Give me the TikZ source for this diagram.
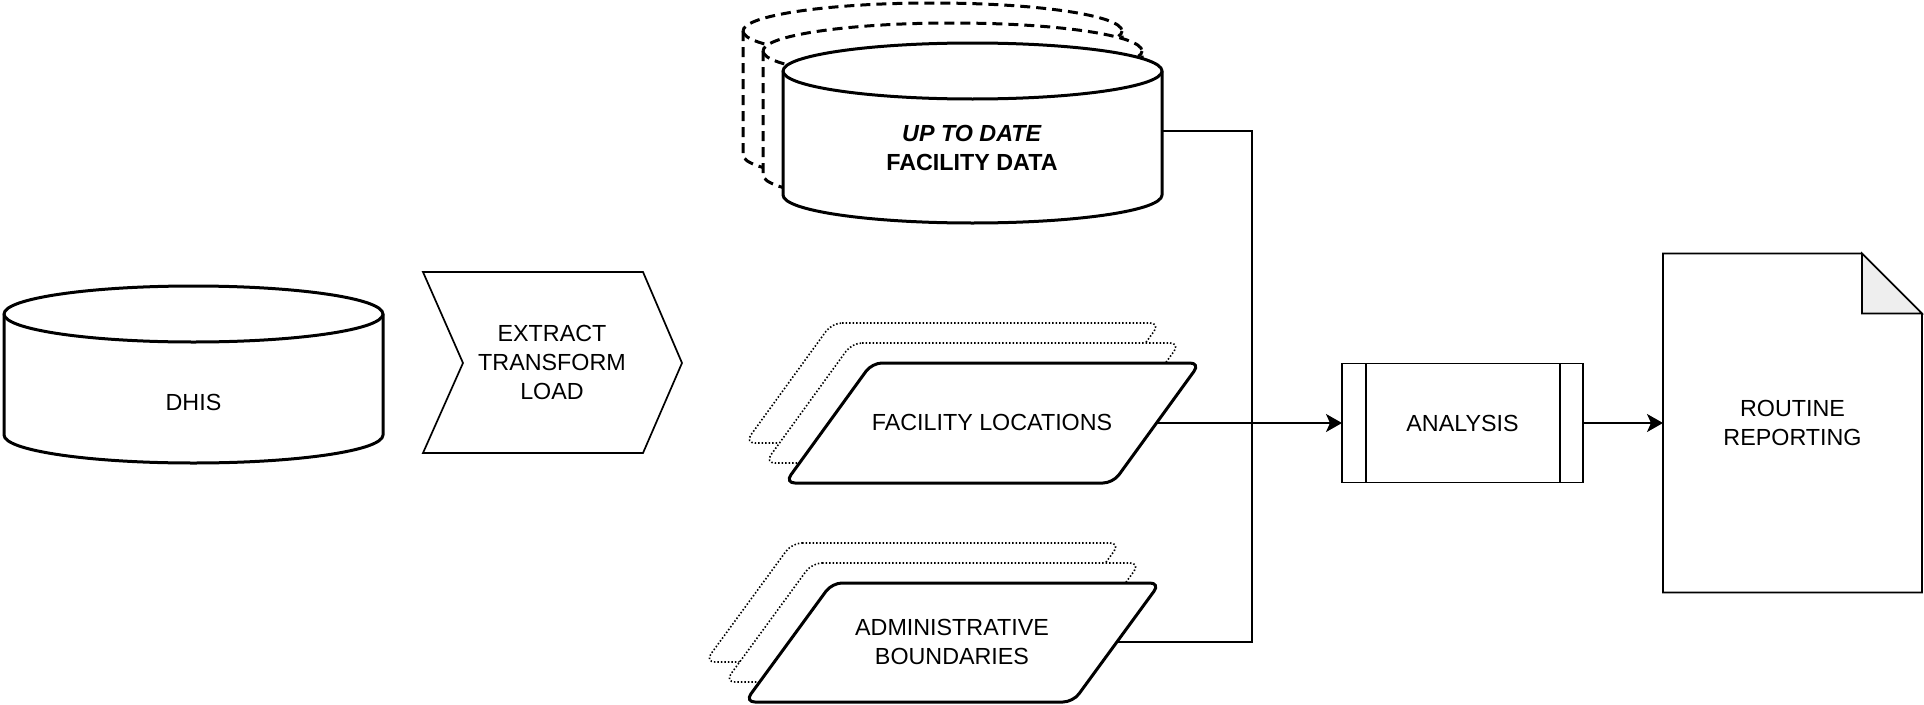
\documentclass[tikz,border=0pt]{standalone}
\usepackage{fontspec}
\setmainfont{Liberation Sans}
\usetikzlibrary{arrows.meta}
\definecolor{foldgray}{HTML}{EEEEEE}
\newcommand\mycyl[4]{%
  \draw[#4] (#1,#2) -- (#1,#3) arc[start angle=180,end angle=0,x radius=189.5,y radius=28]
     -- ++(0,{#2-#3}) arc[start angle=0,end angle=-180,x radius=189.5,y radius=28] -- cycle;
  \draw[#4] (#1,#2) arc[start angle=180,end angle=0,x radius=189.5,y radius=28];
}
\begin{document}
\begin{tikzpicture}[x=1pt,y=-1pt,
  lnthin/.style={line width=1.7pt},
  lnthick/.style={line width=3pt, line join=round, fill=white},
  dashedcyl/.style={line width=3pt, dash pattern=on 10pt off 6pt, fill=white},
  dottedpar/.style={line width=1.6pt, dash pattern=on 1.5pt off 2pt, fill=white, rounded corners=10pt},
  frontpar/.style={line width=3pt, fill=white, rounded corners=10pt},
  lbl/.style={font=\fontsize{23.3}{29}\selectfont, align=center, inner sep=0pt},
  conn/.style={line width=1.7pt},
  arr/.style={conn, -{Stealth[length=16pt,width=18pt,inset=4pt]}},
]
\useasboundingbox (0,0) rectangle (1924,704);

% DHIS cylinder
\mycyl{4}{314}{435}{lnthick}
\node[lbl] (dhis) at (193.5,402) {DHIS};

% ETL chevron
\draw[lnthin] (423,272) -- (643,272) -- (682,363) -- (643,453) -- (423,453) -- (463,363) -- cycle;
\node[lbl] (etl) at (552,362) {EXTRACT\\TRANSFORM\\LOAD};

% Facility data cylinders
\mycyl{743}{31}{155}{dashedcyl}
\mycyl{763}{51}{175}{dashedcyl}
\mycyl{783}{71}{195}{lnthick}
\node[lbl] (fd) at (972,148) {\textbf{\textit{UP TO DATE}}\\\textbf{FACILITY DATA}};

% Facility locations
\draw[dottedpar] (832,323) -- (1160,323) -- (1073,443) -- (745,443) -- cycle;
\draw[dottedpar] (852,343) -- (1180,343) -- (1093,463) -- (765,463) -- cycle;
\draw[frontpar] (872,363) -- (1200,363) -- (1113,483) -- (785,483) -- cycle;
\node[lbl] (fl) at (992,422) {FACILITY LOCATIONS};

% Administrative boundaries
\draw[dottedpar] (792,543) -- (1120,543) -- (1033,662) -- (705,662) -- cycle;
\draw[dottedpar] (812,563) -- (1140,563) -- (1053,682) -- (725,682) -- cycle;
\draw[frontpar] (832,583) -- (1160,583) -- (1073,702) -- (745,702) -- cycle;
\node[lbl] (ab) at (952,642) {ADMINISTRATIVE\\BOUNDARIES};

% Analysis
\node[lbl, draw, lnthin, minimum width=241pt, minimum height=119pt, outer sep=0pt] (an) at (1462.5,423) {ANALYSIS};
\draw[lnthin] ([xshift=24pt]an.north west) -- ([xshift=24pt]an.south west);
\draw[lnthin] ([xshift=-23pt]an.north east) -- ([xshift=-23pt]an.south east);

% Routine reporting document
\node[lbl, minimum width=259pt, minimum height=339pt, outer sep=0pt] (doc) at (1792.5,423) {ROUTINE\\REPORTING};
\draw[lnthin] (doc.north west) -- ([xshift=-60pt]doc.north east) -- ([yshift=-60pt]doc.north east) -- (doc.south east) -- (doc.south west) -- cycle;
\draw[lnthin, fill=foldgray] ([xshift=-60pt]doc.north east) -- ([xshift=-60pt,yshift=-60pt]doc.north east) -- ([yshift=-60pt]doc.north east) -- cycle;

% Connectors
\coordinate (fdR) at (1162,131);
\coordinate (flR) at (1156.5,423);
\coordinate (abR) at (1116.5,642);
\coordinate (j) at (1252,423);
\draw[conn] (fdR) -| (j);
\draw[conn] (abR) -| (j);
\draw[arr] (flR) -- (an.west);
\draw[arr] (an.east) -- (doc.west);
\end{tikzpicture}
\end{document}
